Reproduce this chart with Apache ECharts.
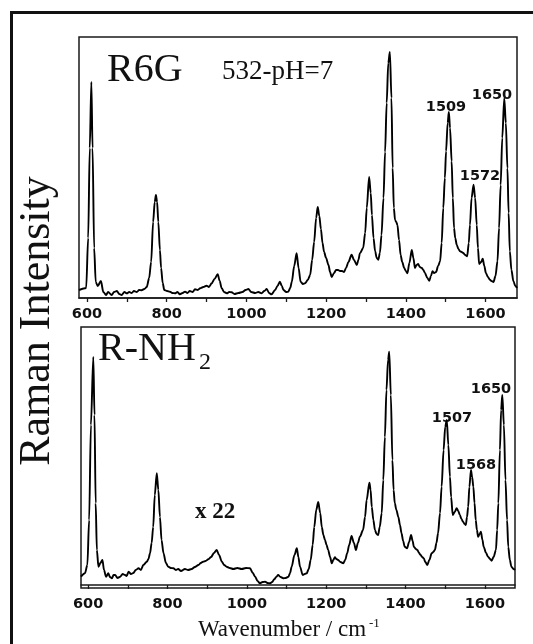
<!DOCTYPE html>
<html>
<head>
<meta charset="utf-8">
<title>Raman spectra</title>
<script src="https://cdn.jsdelivr.net/npm/echarts@6/dist/echarts.min.js"></script>
<style>
  html, body { margin: 0; padding: 0; background: #fff; }
  #chart { width: 533px; height: 644px; }
</style>
</head>
<body>
<div id="chart"></div>
<script>
  // R6G, 532 nm, pH = 7 (wavenumber / intensity, a.u.)
  var r6gWn = [580, 595, 598, 603, 607, 611, 614, 618, 622, 627, 635, 641, 648, 653, 662, 668, 675, 681, 687, 694,
    700, 706, 712, 718, 725, 731, 737, 744, 750, 756, 761, 766, 770, 773, 776, 779, 783, 786, 790, 794,
    801, 808, 814, 821, 827, 833, 840, 846, 852, 858, 865, 871, 878, 884, 892, 900, 906, 913, 920, 928,
    933, 938, 944, 951, 957, 963, 970, 980, 990, 998, 1005, 1012, 1022, 1030, 1038, 1045, 1051, 1057, 1063, 1072,
    1078, 1084, 1089, 1093, 1100, 1105, 1110, 1114, 1120, 1126, 1131, 1136, 1142, 1147, 1154, 1160, 1165, 1170, 1175, 1179,
    1183, 1187, 1191, 1195, 1200, 1206, 1210, 1214, 1220, 1225, 1230, 1235, 1240, 1245, 1250, 1256, 1264, 1270, 1277, 1281,
    1285, 1293, 1298, 1302, 1308, 1312, 1315, 1319, 1323, 1327, 1331, 1335, 1339, 1344, 1348, 1352, 1356, 1360, 1364, 1367,
    1370, 1373, 1376, 1379, 1383, 1387, 1391, 1396, 1400, 1404, 1409, 1415, 1419, 1423, 1427, 1431, 1435, 1440, 1444, 1448,
    1454, 1459, 1463, 1467, 1471, 1476, 1481, 1486, 1490, 1494, 1498, 1501, 1505, 1508, 1511, 1515, 1518, 1521, 1524, 1528,
    1532, 1536, 1540, 1544, 1549, 1554, 1558, 1561, 1565, 1570, 1574, 1578, 1581, 1584, 1589, 1593, 1597, 1601, 1606, 1611,
    1615, 1620, 1625, 1630, 1634, 1638, 1642, 1647, 1651, 1655, 1658, 1661, 1665, 1670, 1675, 1679]
  var r6gInt = [8, 9.7, 10, 60, 150, 216, 150, 50, 16, 12, 17, 6, 3, 6, 3, 6, 7, 4, 3, 6,
    4.7, 6, 5, 7, 6, 8, 7.7, 9, 11, 20, 36, 76, 96, 103, 96, 76, 48, 30, 15, 8,
    7, 6.3, 5, 4.7, 6, 3.7, 5, 6.3, 5, 7, 6, 8.7, 8, 9.7, 11, 12.3, 11, 14.7, 19, 23.7,
    17, 9.7, 6, 4.7, 6, 5.7, 4, 5, 6, 8, 9, 6, 5, 6, 4.7, 7, 9, 5, 3.7, 8,
    12, 16.3, 12, 8, 6, 6.3, 10, 16.3, 32, 44.7, 30, 16.3, 14, 14.7, 18, 23, 38, 56, 80, 91,
    82, 69, 55, 46, 40, 33, 26, 21, 25, 28, 28, 27, 27, 26, 30, 36, 43.3, 38, 33, 38,
    44.7, 50, 65, 90, 121, 105, 83, 60, 46.7, 40, 38.3, 45, 63, 100, 146, 195, 235, 246, 200, 130,
    90, 78, 76, 73, 58, 43, 36, 30, 27, 24.7, 35, 48, 40, 30, 33, 34, 31, 30, 28, 25,
    20, 17.3, 22, 26.7, 25, 26, 32, 36.7, 55, 90, 120, 146.7, 175, 186, 170, 136.7, 100, 70, 60, 53,
    49, 46.7, 46, 45, 43, 41.7, 55, 73, 100, 113.3, 100, 73, 50, 34, 36, 39.3, 32, 25, 21, 18.3,
    17, 16, 22, 36.7, 70, 113, 160, 199.7, 175, 129.7, 85, 46.7, 28, 16.7, 12, 10]

  // R-NH2, scaled x 22
  var rnhWn = [582, 592, 598, 602.5, 607, 613, 616, 619, 622, 626, 631, 636, 640, 645, 651, 655, 660, 664, 668, 674,
    681, 687, 693, 697, 702, 708, 714, 720, 727, 733, 739, 748, 752, 756, 760, 764, 768, 773, 777, 781,
    785, 790, 796, 802, 808, 815, 821, 827, 834, 844, 852, 861, 869, 878, 884, 890, 896, 903, 910, 917,
    924, 930, 937, 943, 949, 957, 966, 976, 987, 998, 1008, 1015, 1021, 1027, 1033, 1040, 1046, 1052, 1058, 1064,
    1069, 1074, 1079, 1085, 1092, 1098, 1105, 1109, 1113, 1120, 1126, 1130, 1134, 1141, 1146, 1151, 1156, 1161, 1166, 1170,
    1175, 1180, 1185, 1189, 1193, 1197, 1201, 1205, 1210, 1214, 1218, 1222, 1226, 1230, 1236, 1243, 1248, 1253, 1258, 1264,
    1270, 1275, 1280, 1285, 1293, 1298, 1302, 1309, 1312, 1315, 1319, 1323, 1327, 1331, 1335, 1340, 1344, 1348, 1352, 1356,
    1359, 1363, 1367, 1370, 1373, 1377, 1382, 1386, 1390, 1394, 1398, 1404, 1409, 1414, 1418, 1421, 1426, 1430, 1434, 1438,
    1442, 1446, 1450, 1455, 1460, 1466, 1470, 1474, 1478, 1482, 1487, 1491, 1496, 1500, 1504, 1508, 1512, 1515, 1519, 1524,
    1529, 1533, 1537, 1541, 1545, 1549, 1552, 1555, 1558, 1561, 1565, 1568, 1571, 1574, 1577, 1580, 1583, 1587, 1590, 1594,
    1597, 1603, 1608, 1613, 1617, 1622, 1628, 1631, 1634, 1638, 1641, 1644, 1648, 1652, 1656, 1659, 1663, 1667, 1672, 1676]
  var rnhInt = [8.3, 11.7, 20, 65, 160, 228, 170, 81.7, 35, 18.3, 22, 25, 15, 8.3, 11.7, 8, 6.7, 10, 10, 7,
    8.3, 11, 10, 9, 13.3, 11, 12, 15, 16.7, 15, 20, 23.3, 26, 31.7, 42, 58, 90, 111.7, 95, 68,
    45, 31.7, 22, 18.3, 17, 16.7, 15, 16, 14, 16, 15, 16, 18, 20, 22, 23.3, 24, 25.7, 28, 32,
    35, 30, 23.3, 20, 18.3, 17, 16, 17, 16, 17, 16.7, 12, 8.3, 4, 1.7, 3, 3.3, 2, 1.7, 3,
    5.7, 8, 10, 8, 6.7, 7, 8.3, 12, 18.3, 30, 36.7, 28, 18.3, 10, 11, 11.7, 16, 25, 40, 58,
    75, 83, 72, 58, 50, 45, 40, 35, 28, 21.7, 25, 27.7, 26, 25, 23, 21.7, 25, 31.7, 40, 49,
    42, 35, 42, 48.3, 55, 68, 85, 102.3, 95, 78, 65, 55, 51, 50, 58, 71.7, 105, 148, 195, 225,
    233.3, 190, 125, 95, 81.7, 75, 68, 60, 51.7, 44, 38.3, 36.7, 43, 50, 44, 38.3, 36, 35, 32, 30,
    28, 26.7, 23, 20, 25, 31.7, 33, 35, 42, 51.7, 72, 98.3, 135, 158, 165, 140, 108.3, 88, 70, 73,
    76.7, 74, 70, 66, 63.3, 61, 60, 68, 78.3, 98, 115, 108, 98.3, 82, 65, 55, 48.3, 51, 53.3, 45,
    38.3, 32, 28.3, 26, 24.3, 28, 35, 55, 81.7, 135, 175, 190, 160, 105, 65, 38.3, 25, 18.3, 16, 15]

  var tickValues = [600, 700, 800, 900, 1000, 1100, 1200, 1300, 1400, 1500, 1600]
  var labelValues = [600, 800, 1000, 1200, 1400, 1600]

  function pairs(xs, ys) {
    return xs.map(function (x, i) { return [x, ys[i]] })
  }

  var tickFont = { fontFamily: 'DejaVu Sans', fontWeight: 'bold', fontSize: 14.5, color: '#111' }

  function xAxisFor(gridIndex, min, max) {
    return {
      type: 'value', gridIndex: gridIndex, min: min, max: max,
      axisLine: { show: true, lineStyle: { color: '#1a1a1a', width: 1.5 } },
      axisTick: { show: true, inside: false, length: 4, customValues: tickValues,
        lineStyle: { color: '#1a1a1a', width: 1.3 } },
      axisLabel: Object.assign({
        customValues: labelValues, margin: 9,
        formatter: function (v) { return String(v) }
      }, tickFont),
      splitLine: { show: false }
    }
  }

  function yAxisFor(gridIndex, min, max) {
    return {
      type: 'value', gridIndex: gridIndex, min: min, max: max,
      axisLine: { show: false }, axisTick: { show: false },
      axisLabel: { show: false }, splitLine: { show: false }
    }
  }

  function txt(x, y, text, font, align, extra) {
    var el = {
      type: 'text', x: x, y: y, silent: true,
      style: { text: text, font: font, fill: '#111',
        textAlign: align, align: align, textVerticalAlign: 'middle', verticalAlign: 'middle' }
    }
    return Object.assign(el, extra || {})
  }

  var serif = '"Liberation Serif", "Times New Roman", serif'
  var peakFont = 'bold 14.5px "DejaVu Sans", sans-serif'

  var chart = echarts.init(document.getElementById('chart'), null, { renderer: 'canvas' })
  chart.setOption({
    backgroundColor: '#fff',
    animation: false,
    grid: [
      { left: 79, top: 37, width: 438, height: 261, show: true, borderColor: '#1a1a1a', borderWidth: 1.5 },
      { left: 81, top: 327, width: 434, height: 261, show: true, borderColor: '#1a1a1a', borderWidth: 1.5 }
    ],
    xAxis: [xAxisFor(0, 580, 1679), xAxisFor(1, 582, 1676)],
    yAxis: [yAxisFor(0, 0, 261), yAxisFor(1, -3, 258)],
    series: [
      { name: 'R6G', type: 'line', xAxisIndex: 0, yAxisIndex: 0, data: pairs(r6gWn, r6gInt),
        showSymbol: false, smooth: 0.3, smoothMonotone: 'x',
        lineStyle: { color: '#000', width: 1.9 } },
      { name: 'R-NH2', type: 'line', xAxisIndex: 1, yAxisIndex: 1, data: pairs(rnhWn, rnhInt),
        showSymbol: false, smooth: 0.3, smoothMonotone: 'x',
        lineStyle: { color: '#000', width: 1.9 } }
    ],
    graphic: [
      // outer frame (right and bottom sides are outside the picture)
      { type: 'rect', shape: { x: 11.5, y: 12.5, width: 600, height: 700 }, silent: true,
        style: { fill: 'none', stroke: '#111', lineWidth: 3 } },
      txt(37, 321, 'Raman Intensity', '44px ' + serif, 'center', { rotation: Math.PI / 2 }),
      txt(107, 70, 'R6G', '40px ' + serif, 'left'),
      txt(222, 72, '532-pH=7', '27px ' + serif, 'left'),
      txt(446, 107, '1509', peakFont, 'center'),
      txt(492, 95, '1650', peakFont, 'center'),
      txt(480, 176, '1572', peakFont, 'center'),
      txt(98, 349, 'R-NH', '40px ' + serif, 'left'),
      txt(199, 363, '2', '24px ' + serif, 'left'),
      txt(195, 512, 'x 22', 'bold 23px ' + serif, 'left'),
      txt(452, 418, '1507', peakFont, 'center'),
      txt(476, 465, '1568', peakFont, 'center'),
      txt(491, 389, '1650', peakFont, 'center'),
      txt(198, 630, 'Wavenumber / cm', '23px ' + serif, 'left'),
      txt(369, 624, '-1', '13px ' + serif, 'left')
    ]
  })
</script>
</body>
</html>
